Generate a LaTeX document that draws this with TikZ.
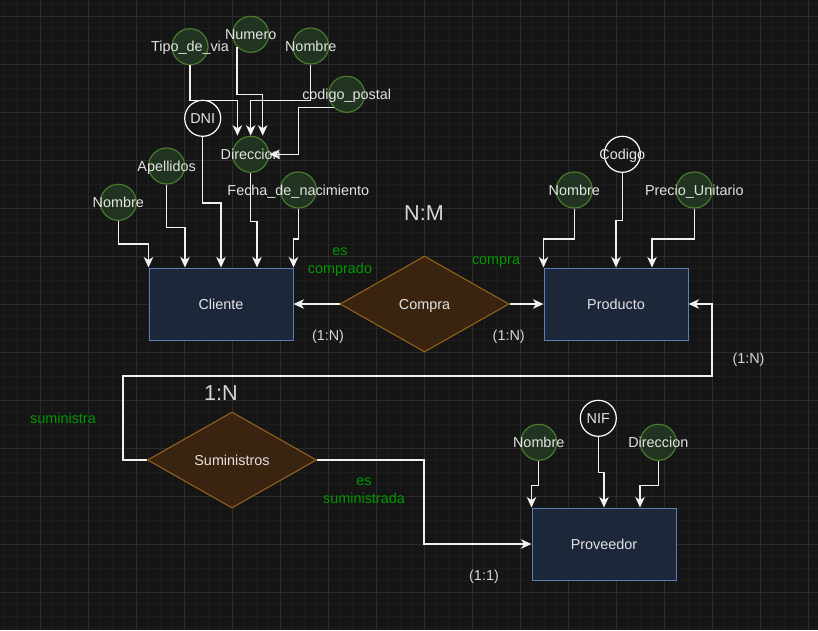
\documentclass[tikz,border=0pt]{standalone}
\usepackage{fontspec}
\setmainfont{Liberation Sans}
\usetikzlibrary{shapes.geometric,arrows.meta}

\definecolor{bgcol}{HTML}{151515}
\definecolor{minorgrid}{HTML}{1C1C1C}
\definecolor{majorgrid}{HTML}{2C2C2C}
\definecolor{entfill}{HTML}{1D273A}
\definecolor{entline}{HTML}{5A7FB5}
\definecolor{relfill}{HTML}{3A2410}
\definecolor{relline}{HTML}{99661A}
\definecolor{attrfill}{HTML}{213321}
\definecolor{attrline}{HTML}{4A7A2E}
\definecolor{txtcol}{HTML}{E3E3E3}
\definecolor{cardcol}{HTML}{D6D6D6}
\definecolor{rolcol}{HTML}{009900}
\definecolor{edgecol}{HTML}{F0F0F0}

\begin{document}
\begin{tikzpicture}[x=1pt,y=-1pt,
    font=\fontsize{14.4}{17.5}\selectfont,
    fixtxt/.style={text height=10.3pt, text depth=0pt},
    entity/.style={draw=entline, fill=entfill, line width=1pt, fixtxt,
        minimum width=144pt, minimum height=72pt, text=txtcol},
    relation/.style={diamond, draw=relline, fill=relfill, line width=1pt, fixtxt,
        minimum width=169pt, minimum height=96pt, inner sep=0pt, text=txtcol},
    attr/.style={circle, draw=attrline, fill=attrfill, line width=1.2pt,
        minimum size=36pt, inner sep=0pt, label={[text=txtcol,fixtxt]center:#1}},
    keyattr/.style={circle, draw=white, fill=bgcol, line width=1.2pt,
        minimum size=36pt, inner sep=0pt, label={[text=txtcol,fixtxt]center:#1}},
    arr/.style={draw=edgecol, line width=1.3pt,
        -{Stealth[length=10.5pt,width=9.5pt,inset=3pt]}},
    card/.style={text=cardcol, fixtxt},
    bigcard/.style={text=cardcol, font=\fontsize{21.6}{24}\selectfont},
    rol/.style={text=rolcol, align=center}]

    \useasboundingbox (0,0) rectangle (818,630);
    \fill[bgcol] (0,0) rectangle (818,630);
    \foreach \x in {4,16,...,816}
        \draw[minorgrid, line width=0.8pt] (\x,0) -- (\x,630);
    \foreach \y in {4,16,...,628}
        \draw[minorgrid, line width=0.8pt] (0,\y) -- (818,\y);
    \foreach \x in {40,88,...,808}
        \draw[majorgrid, line width=0.8pt] (\x,0) -- (\x,630);
    \foreach \y in {16,64,...,616}
        \draw[majorgrid, line width=0.8pt] (0,\y) -- (818,\y);

    % entidades y relaciones
    \node[entity] (cliente) at (221,304) {Cliente};
    \node[entity] (producto) at (616,304) {Producto};
    \node[entity] (proveedor) at (604,544) {Proveedor};
    \node[relation] (compra) at (424.5,304) {Compra};
    \node[relation] (sumin) at (232,460) {Suministros};

    % atributos de Cliente
    \node[attr=Tipo\_de\_via] (tipo) at (190,46.7) {};
    \node[attr=Numero] (numero) at (250.7,34.3) {};
    \node[attr=Nombre] (nombreT) at (310.7,46) {};
    \node[attr=codigo\_postal] (postal) at (346.7,94.3) {};
    \node[keyattr=DNI] (dni) at (202.7,118.3) {};
    \node[attr=Direccion] (dir) at (250.7,154.3) {};
    \node[attr=Apellidos] (apellidos) at (166.7,166) {};
    \node[attr=Nombre] (nombreC) at (118.3,202.3) {};
    \node[attr=Fecha\_de\_nacimiento] (fecha) at (298.3,190) {};

    % atributos de Producto
    \node[keyattr=Codigo] (codigo) at (622.3,154.3) {};
    \node[attr=Nombre] (nombreP) at (574.3,190) {};
    \node[attr=Precio\_Unitario] (precio) at (694.3,190) {};

    % atributos de Proveedor
    \node[keyattr=NIF] (nif) at (598.3,418.3) {};
    \node[attr=Nombre] (nombreV) at (538.7,442.3) {};
    \node[attr=Direccion] (dirV) at (658.3,442.3) {};

    % conexiones
    \draw[arr] (tipo.south) -- ++(0,35.3) -| ([xshift=-13.3pt]dir.north);
    \draw[arr] (numero.222) -- ++(0,48) -| ([xshift=12pt]dir.north);
    \draw[arr] (nombreT.south) -- ++(0,36) -| (dir.north);
    \draw[arr] (postal.226) -- ++(-35,0) |- (dir.east);

    \draw[arr] (nombreC.south) -- ++(0,23) -| (cliente.north west);
    \draw[arr] (apellidos.south) -- ++(0,42.7) -| ([xshift=-36pt]cliente.north);
    \draw[arr] (dni.south) -- ++(0,66) -| (cliente.north);
    \draw[arr] (dir.south) -- ++(0,48.4) -| ([xshift=36pt]cliente.north);
    \draw[arr] (fecha.south) -- ++(0,30.3) -| (cliente.north east);

    \draw[arr] (nombreP.south) -- ++(0,30.3) -| (producto.north west);
    \draw[arr] (codigo.south) -- ++(0,47.7) -| (producto.north);
    \draw[arr] (precio.south) -- ++(0,30.3) -| ([xshift=36pt]producto.north);

    \draw[arr] (nombreV.south) -- ++(0,24.7) -| (proveedor.north west);
    \draw[arr] (nif.south) -- ++(0,35.4) -| (proveedor.north);
    \draw[arr] (dirV.south) -- ++(0,24.7) -| ([xshift=36pt]proveedor.north);

    \draw[arr] (compra.west) -- (cliente.east);
    \draw[arr] (compra.east) -- (producto.west);
    \coordinate (vuelta) at (712,376);
    \draw[arr] (sumin.west) -- ++(-24,0) |- (vuelta) |- (producto.east);
    \draw[arr] (sumin.east) -- ++(107,0) |- (proveedor.west);

    % cardinalidades y roles
    \node[bigcard] (nm) at (424,213) {N:M};
    \node[bigcard] (unoN) at (221,393) {1:N};
    \node[card] (cardC) at (328,335) {(1:N)};
    \node[card] (cardP) at (508.7,335) {(1:N)};
    \node[card] (cardS) at (748.5,358.5) {(1:N)};
    \node[card] (cardV) at (484,575) {(1:1)};
    \node[rol] (esComprado) at (340,262) {es\\comprado};
    \node[rol] (rolCompra) at (496,262) {compra};
    \node[rol] (rolSumin) at (63,418) {suministra};
    \node[rol] (esSumin) at (364,490.5) {es\\suministrada};
\end{tikzpicture}
\end{document}
